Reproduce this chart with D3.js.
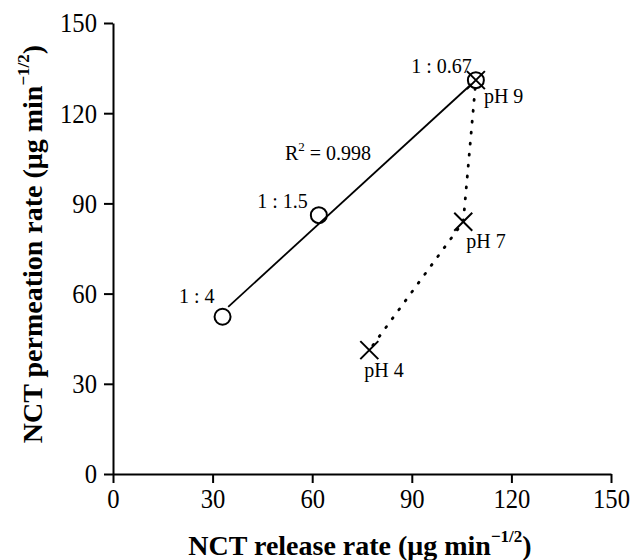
<!DOCTYPE html>
<html>
<head>
<meta charset="utf-8">
<script src="https://cdn.jsdelivr.net/npm/d3@7"></script>
<style>
    body { margin: 0; background: #fff; }
    svg text { font-family: "Liberation Serif", "Times New Roman", serif; fill: #000; }
</style>
</head>
<body>
<div id="chart"></div>
<script>
// Data
var ratioLabels = ["1 : 4", "1 : 1.5", "1 : 0.67"];
var ratioRelease = [33.0, 62.0, 109.3];
var ratioPermeation = [52.3, 86.1, 131.0];

var phLabels = ["pH 4", "pH 7", "pH 9"];
var phRelease = [77.2, 105.5, 109.3];
var phPermeation = [41.2, 83.9, 131.0];

// ends of the fitted line
var fitRelease = [34.7, 108.0];
var fitPermeation = [55.6, 129.7];

var xTicks = [0, 30, 60, 90, 120, 150];
var yTicks = [0, 30, 60, 90, 120, 150];

function init() {
    var w = 633,
        h = 560;

    var svg = d3
        .select("#chart")
        .append("svg")
        .attr("width", w)
        .attr("height", h);

    var xScale = d3.scaleLinear().domain([0, 150]).range([113, 611]);
    var yScale = d3.scaleLinear().domain([0, 150]).range([474, 23]);

    // axes
    var xAxis = d3.axisBottom(xScale).tickValues(xTicks).tickSize(9).tickSizeOuter(0).tickPadding(5);
    var yAxis = d3.axisLeft(yScale).tickValues(yTicks).tickSize(9).tickSizeOuter(0).tickPadding(7);

    var gx = svg.append("g")
        .attr("transform", "translate(0," + yScale(0) + ")")
        .call(xAxis);
    var gy = svg.append("g")
        .attr("transform", "translate(" + xScale(0) + ",0)")
        .call(yAxis);

    [gx, gy].forEach(g => {
        g.select(".domain").attr("stroke", "#000").attr("stroke-width", 2);
        g.selectAll(".tick line").attr("stroke", "#000").attr("stroke-width", 2);
        g.selectAll(".tick text")
            .attr("font-family", "Liberation Serif")
            .attr("font-size", "28px")
            .attr("fill", "#000");
    });
    // the original digits are narrow
    gx.selectAll(".tick text").attr("transform", "scale(0.88,1)");
    gy.selectAll(".tick text").attr("x", -16 / 0.88).attr("transform", "scale(0.88,1)");

    // fitted line
    var line = d3.line().x(d => xScale(d[0])).y(d => yScale(d[1]));
    svg.append("path")
        .datum(d3.zip(fitRelease, fitPermeation))
        .attr("d", line)
        .attr("fill", "none")
        .attr("stroke", "#000")
        .attr("stroke-width", 1.8);

    // dotted pH path
    svg.append("path")
        .datum(d3.zip(phRelease, phPermeation))
        .attr("d", line)
        .attr("fill", "none")
        .attr("stroke", "#000")
        .attr("stroke-width", 2.8)
        .attr("stroke-linecap", "round")
        .attr("stroke-dasharray", "1,10")
        .attr("stroke-dashoffset", -6);

    // pH crosses
    var s = 9;
    svg.append("g")
        .selectAll("path")
        .data(d3.zip(phRelease, phPermeation))
        .enter()
        .append("path")
        .attr("d", d => {
            var cx = xScale(d[0]), cy = yScale(d[1]);
            return "M" + (cx - s) + "," + (cy - s) + "L" + (cx + s) + "," + (cy + s) +
                "M" + (cx - s) + "," + (cy + s) + "L" + (cx + s) + "," + (cy - s);
        })
        .attr("stroke", "#000")
        .attr("stroke-width", 2);

    // ratio circles
    svg.append("g")
        .selectAll("circle")
        .data(d3.zip(ratioRelease, ratioPermeation))
        .enter()
        .append("circle")
        .attr("cx", d => xScale(d[0]))
        .attr("cy", d => yScale(d[1]))
        .attr("r", 8)
        .attr("fill", "none")
        .attr("stroke", "#000")
        .attr("stroke-width", 2);

    // point labels
    var ratioOffsets = [[-8, -14], [-11, -7], [-4, -7]];
    svg.append("g")
        .selectAll("text")
        .data(ratioLabels)
        .enter()
        .append("text")
        .attr("x", (d, i) => xScale(ratioRelease[i]) + ratioOffsets[i][0])
        .attr("y", (d, i) => yScale(ratioPermeation[i]) + ratioOffsets[i][1])
        .attr("text-anchor", "end")
        .attr("font-size", "20px")
        .text(d => d);

    var phOffsets = [[-5, 27], [3, 26], [8, 23]];
    svg.append("g")
        .selectAll("text")
        .data(phLabels)
        .enter()
        .append("text")
        .attr("x", (d, i) => xScale(phRelease[i]) + phOffsets[i][0])
        .attr("y", (d, i) => yScale(phPermeation[i]) + phOffsets[i][1])
        .attr("text-anchor", "start")
        .attr("font-size", "20px")
        .text(d => d);

    // R squared
    var r2 = svg.append("text")
        .attr("x", xScale(51.8))
        .attr("y", yScale(104.4))
        .attr("font-size", "20px");
    r2.append("tspan").text("R");
    r2.append("tspan").attr("font-size", "13px").attr("dy", -9).text("2");
    r2.append("tspan").attr("dy", 9).text(" = 0.998");

    // axis titles
    var xt = svg.append("text")
        .attr("x", 360)
        .attr("y", 555)
        .attr("text-anchor", "middle")
        .attr("font-size", "28px")
        .attr("font-weight", "bold");
    xt.append("tspan").text("NCT release rate (\u03bcg min");
    xt.append("tspan").attr("font-size", "17px").attr("dy", -13).text("\u22121/2");
    xt.append("tspan").attr("dy", 13).text(")");

    var yt = svg.append("text")
        .attr("transform", "translate(42,244) rotate(-90)")
        .attr("text-anchor", "middle")
        .attr("font-size", "28px")
        .attr("font-weight", "bold");
    yt.append("tspan").text("NCT permeation rate (\u03bcg min");
    yt.append("tspan").attr("font-size", "17px").attr("dy", -13).text("\u22121/2");
    yt.append("tspan").attr("dy", 13).text(")");
}

window.onload = init;
</script>
</body>
</html>
